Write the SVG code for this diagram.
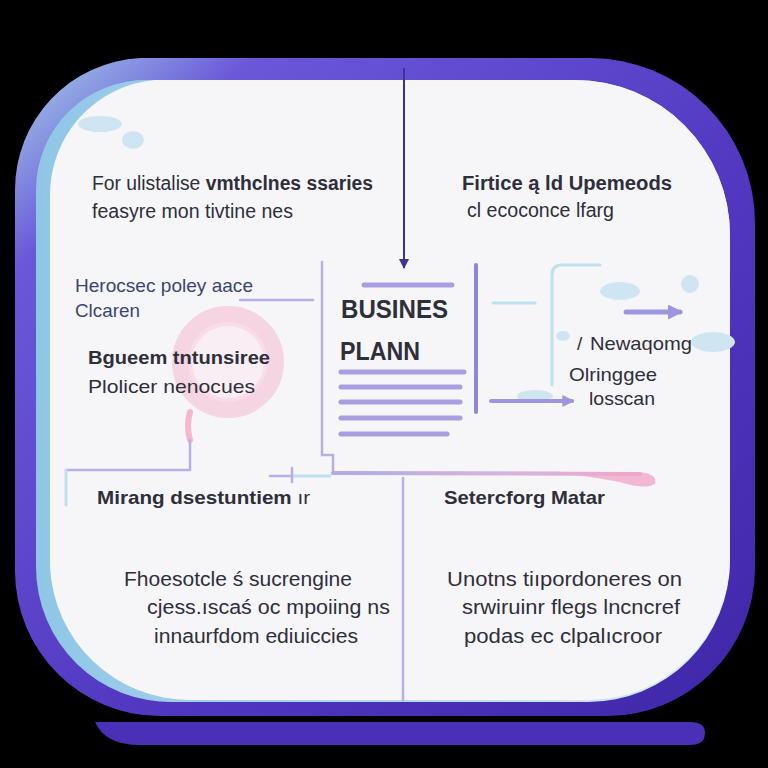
<svg xmlns="http://www.w3.org/2000/svg" width="768" height="768" viewBox="0 0 768 768">
<defs>
<linearGradient id="frameG" x1="0" y1="0" x2="1" y2="1">
<stop offset="0" stop-color="#a6d3ea"/>
<stop offset="0.16" stop-color="#6a58d8"/>
<stop offset="0.6" stop-color="#5136c0"/>
<stop offset="1" stop-color="#3f27a8"/>
</linearGradient>
<linearGradient id="leftG" x1="0" y1="0" x2="1" y2="0">
<stop offset="0" stop-color="#8fc6e6"/>
<stop offset="1" stop-color="#d8ecf6"/>
</linearGradient>
<linearGradient id="pinkG" x1="0" y1="0" x2="1" y2="0">
<stop offset="0" stop-color="#b3a9e4"/>
<stop offset="0.6" stop-color="#d8b4dc"/>
<stop offset="1" stop-color="#f0a6c8"/>
</linearGradient>
<marker id="ah" viewBox="0 0 10 10" refX="9" refY="5" markerWidth="5" markerHeight="5" orient="auto">
<path d="M0,0 L10,5 L0,10 Z" fill="#3b3590"/>
</marker>
<marker id="ahl" viewBox="0 0 10 10" refX="8" refY="5" markerWidth="3" markerHeight="3" orient="auto">
<path d="M0,0 L10,5 L0,10 Z" fill="#9d95e0"/>
</marker>
<style>
text{font-family:"Liberation Sans","Open Sans",Arial,sans-serif;fill:#2f2f3a}
.t{font-size:20px}
.s{font-size:19px}
.b{font-weight:bold}
.blue{fill:#3a4670}
.ln{stroke:#b7b0e4;stroke-width:2.5;fill:none;stroke-linecap:round}
.doc{stroke:#a79fe2;stroke-width:5;stroke-linecap:round}
.lb{stroke:#bfe0ef;stroke-width:3;fill:none;stroke-linecap:round}
.cloud{fill:#cfe6f2}
</style>
</defs>
<rect width="768" height="768" fill="#000"/>
<g id="frame">
<path d="M95,722 H690 Q705,722 705,733 Q705,745 690,745 H140 Q105,745 95,722 Z" fill="#4a30b6"/>
<path d="M140,58 H590 A165,165 0 0 1 755,223 V570 A148,148 0 0 1 607,716 H160 A145,145 0 0 1 15,571 V190 A132,132 0 0 1 140,58 Z" fill="url(#frameG)"/>
<path d="M150,80 H575 A155,155 0 0 1 730,235 V560 A142,142 0 0 1 588,702 H175 A135,135 0 0 1 36,567 V190 A110,110 0 0 1 150,80 Z" fill="url(#leftG)"/>
<path d="M155,80 H575 A155,155 0 0 1 730,235 V560 A142,142 0 0 1 588,700 H190 A140,140 0 0 1 50,567 V195 A115,115 0 0 1 155,80 Z" fill="#f6f6f9"/>
<ellipse class="cloud" cx="100" cy="124" rx="22" ry="8"/>
<ellipse class="cloud" cx="133" cy="140" rx="11" ry="9"/>
</g>
<g id="decor">
<circle cx="228" cy="362" r="46" fill="none" stroke="#f5c8d9" stroke-width="20" opacity="0.7"/>
<circle cx="228" cy="362" r="40" fill="#fbe6ee" opacity="0.5"/>
<path d="M190,412 Q186,425 190,440" stroke="#f3b8cd" stroke-width="6" fill="none" stroke-linecap="round"/>
<ellipse class="cloud" cx="620" cy="291" rx="20" ry="9"/>
<circle class="cloud" cx="690" cy="284" r="9"/>
<ellipse class="cloud" cx="713" cy="342" rx="22" ry="10"/>
<ellipse class="cloud" cx="563" cy="336" rx="7" ry="5"/>
<ellipse class="cloud" cx="535" cy="396" rx="18" ry="6"/>
<path d="M560,472 H640 Q658,474 655,484 Q645,490 620,482 Z" fill="#f1a9c9" opacity="0.8"/>
</g>
<g id="connectors">
<line x1="404" y1="68" x2="404" y2="268" stroke="#3b3590" stroke-width="2" marker-end="url(#ah)"/>
<line class="ln" x1="403" y1="478" x2="403" y2="700"/>
<polyline class="ln" points="322,262 322,455 333,455 333,473 560,473"/>
<line x1="333" y1="473" x2="640" y2="474" stroke="url(#pinkG)" stroke-width="4" stroke-linecap="round"/>
<line class="ln" x1="240" y1="300" x2="313" y2="300"/>
<polyline class="ln" points="190,440 190,470 66,470"/>
<line class="lb" x1="66" y1="470" x2="66" y2="505"/>
<line class="ln" x1="270" y1="476" x2="292" y2="476"/>
<line class="lb" x1="292" y1="476" x2="330" y2="476"/>
<line class="ln" x1="292" y1="468" x2="292" y2="482"/>
<path d="M476,265 V412" stroke="#8e86d8" stroke-width="4" stroke-linecap="round"/>
<line class="lb" x1="493" y1="303" x2="535" y2="303"/>
<path d="M552,385 V275 Q552,265 562,265 H600" class="lb"/>
<line x1="626" y1="312" x2="680" y2="312" stroke="#9d95e0" stroke-width="5" stroke-linecap="round" marker-end="url(#ahl)"/>
<line x1="491" y1="401" x2="572" y2="401" stroke="#9d95e0" stroke-width="4" stroke-linecap="round" marker-end="url(#ahl)"/>
</g>
<g id="business-plan">
<line class="doc" x1="364" y1="285" x2="452" y2="285"/>
<text class="b" x="341" y="318" font-size="25" textLength="107" lengthAdjust="spacingAndGlyphs">BUSINES</text>
<text class="b" x="340" y="360" font-size="25" textLength="80" lengthAdjust="spacingAndGlyphs">PLANN</text>
<line class="doc" x1="341" y1="372" x2="464" y2="372"/>
<line class="doc" x1="341" y1="387" x2="460" y2="387"/>
<line class="doc" x1="341" y1="402" x2="460" y2="402"/>
<line class="doc" x1="341" y1="418" x2="460" y2="418"/>
<line class="doc" x1="341" y1="434" x2="447" y2="434"/>
</g>
<g id="node-top-left">
<text class="t" x="92" y="190" textLength="281" lengthAdjust="spacingAndGlyphs">For ulistalise <tspan class="b">vmthclnes ssaries</tspan></text>
<text class="t" x="92" y="218" textLength="201" lengthAdjust="spacingAndGlyphs">feasyre mon tivtine nes</text>
</g>
<g id="node-top-right">
<text class="t b" x="462" y="190" textLength="210" lengthAdjust="spacingAndGlyphs">Firtice ą ld Upemeods</text>
<text class="t" x="467" y="217" textLength="147" lengthAdjust="spacingAndGlyphs">cl ecoconce lfarg</text>
</g>
<g id="node-left-1">
<text class="s blue" x="75" y="292" font-size="18" textLength="178" lengthAdjust="spacingAndGlyphs">Herocsec poley aace</text>
<text class="s blue" x="75" y="317" font-size="18" textLength="65" lengthAdjust="spacingAndGlyphs">Clcaren</text>
</g>
<g id="node-left-2">
<text class="s b" x="88" y="364" textLength="182" lengthAdjust="spacingAndGlyphs">Bgueem tntunsiree</text>
<text class="s" x="88" y="393" textLength="167" lengthAdjust="spacingAndGlyphs">Plolicer  nenocues</text>
</g>
<g id="node-right">
<text class="s" x="577" y="350" fill="#2d3550">/</text>
<text class="s" x="590" y="350" textLength="102" lengthAdjust="spacingAndGlyphs">Newaqomg</text>
<text class="s" x="569" y="381" textLength="88" lengthAdjust="spacingAndGlyphs">Olringgee</text>
<text class="s" x="589" y="405" textLength="66" lengthAdjust="spacingAndGlyphs">losscan</text>
</g>
<g id="node-mid-left">
<text class="s b" x="97" y="504" textLength="213" lengthAdjust="spacingAndGlyphs">Mirang dsestuntiem <tspan font-weight="normal">ır</tspan></text>
</g>
<g id="node-mid-right">
<text class="s b" x="444" y="504" textLength="161" lengthAdjust="spacingAndGlyphs">Setercforg Matar</text>
</g>
<g id="node-bottom-left">
<text class="t" x="124" y="586" textLength="228" lengthAdjust="spacingAndGlyphs">Fhoesotcle ś sucrengine</text>
<text class="t" x="147" y="614" textLength="243" lengthAdjust="spacingAndGlyphs">cjess.ıscaś oc mpoiing  ns</text>
<text class="t" x="154" y="643" textLength="204" lengthAdjust="spacingAndGlyphs">innaurfdom ediuiccies</text>
</g>
<g id="node-bottom-right">
<text class="t" x="447" y="586" textLength="235" lengthAdjust="spacingAndGlyphs">Unotns tiıpordoneres on</text>
<text class="t" x="462" y="614" textLength="218" lengthAdjust="spacingAndGlyphs">srwiruinr flegs lncncref</text>
<text class="t" x="464" y="643" textLength="198" lengthAdjust="spacingAndGlyphs">podas ec clpalıcroor</text>
</g>
</svg>
